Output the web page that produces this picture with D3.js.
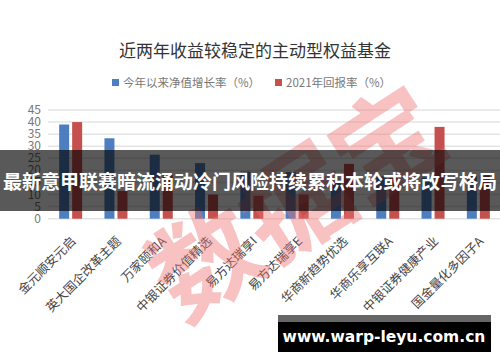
<!DOCTYPE html>
<html>
<head>
<meta charset="utf-8">
<script src="https://cdn.jsdelivr.net/npm/d3@7"></script>
<style>
  html, body { margin: 0; padding: 0; background: #fff; }
  svg { display: block; font-family: "Noto Sans CJK SC", "Noto Sans", sans-serif; }
</style>
</head>
<body>
<svg id="chart" width="500" height="362"></svg>
<script>
"use strict";

// chart data
const funds = ["金元顺安元启", "英大国企改革主题", "万家颐和A", "中银证券价值精选", "易方达瑞享I",
               "易方达瑞享E", "华商新趋势优选", "华商乐享互联A", "中银证券健康产业", "国金量化多因子A"];
const growthYtd = [39.0, 33.3, 26.5, 23.0, 19.5, 19.3, 15.5, 17.5, 17.0, 18.0];
const return2021 = [40.0, 11.5, 18.8, 10.0, 9.5, 10.0, 22.7, 17.0, 38.0, 18.0];
const seriesNames = ["今年以来净值增长率（%）", "2021年回报率（%）"];
const yTicks = [0, 5, 10, 15, 20, 25, 30, 35, 40, 45];

const colors = ["#4d7fc0", "#c5504e"];

const svg = d3.select("#chart");

// title
svg.append("text")
    .attr("x", 255).attr("y", 57)
    .attr("text-anchor", "middle")
    .attr("font-size", 17)
    .attr("fill", "#333")
    .text("近两年收益较稳定的主动型权益基金");

// legend
const legendX = [112, 275];
seriesNames.forEach((name, i) => {
    svg.append("rect")
        .attr("x", legendX[i]).attr("y", 79)
        .attr("width", 7).attr("height", 7)
        .attr("fill", colors[i]);
    svg.append("text")
        .attr("x", legendX[i] + 11).attr("y", 87)
        .attr("font-size", 11.5)
        .attr("fill", "#777")
        .text(name);
});

// scales
const x = d3.scaleBand().domain(funds).range([48, 501]).padding(0);
const y = d3.scaleLinear().domain([0, 45]).range([218.7, 110]);

// grid + y labels
svg.append("g")
    .selectAll("line")
    .data(yTicks)
    .enter()
    .append("line")
    .attr("x1", 48).attr("x2", 500)
    .attr("y1", (d) => y(d)).attr("y2", (d) => y(d))
    .attr("stroke", "#e4e4e4")
    .attr("stroke-width", 1.5);

svg.append("g")
    .selectAll("text")
    .data(yTicks)
    .enter()
    .append("text")
    .attr("x", 41)
    .attr("y", (d) => y(d) + 4)
    .attr("text-anchor", "end")
    .attr("font-size", 12)
    .attr("fill", "#777")
    .text((d) => d);

// bars
const barW = 10;
const series = [growthYtd, return2021];
series.forEach((vals, s) => {
    svg.append("g")
        .selectAll("rect")
        .data(funds)
        .enter()
        .append("rect")
        .attr("x", (d) => x(d) + x.bandwidth() / 2 + (s === 0 ? -11.5 : 1.5))
        .attr("y", (d, i) => y(vals[i]))
        .attr("width", barW)
        .attr("height", (d, i) => y(0) - y(vals[i]))
        .attr("fill", colors[s]);
});

// x labels, rotated
svg.append("g")
    .selectAll("text")
    .data(funds)
    .enter()
    .append("text")
    .attr("transform", (d) => "translate(" + (x(d) + x.bandwidth() / 2 + 6) + ",242) rotate(-45)")
    .attr("text-anchor", "end")
    .attr("font-size", 12.5)
    .attr("fill", "#444")
    .text((d) => d);

// watermark
svg.append("text")
    .attr("transform", "translate(318,236) rotate(-33)")
    .attr("text-anchor", "middle")
    .attr("font-size", 108)
    .attr("font-weight", "bold")
    .attr("fill", "#f07070")
    .attr("opacity", 0.42)
    .text("数据宝");

// headline banner
svg.append("rect")
    .attr("x", 0).attr("y", 150)
    .attr("width", 500).attr("height", 61)
    .attr("fill", "#000")
    .attr("opacity", 0.65);
svg.append("text")
    .attr("x", 250).attr("y", 189)
    .attr("text-anchor", "middle")
    .attr("font-size", 19)
    .attr("font-weight", "bold")
    .attr("fill", "#fff")
    .text("最新意甲联赛暗流涌动冷门风险持续累积本轮或将改写格局");

// site label
svg.append("rect")
    .attr("x", 278).attr("y", 315)
    .attr("width", 213).attr("height", 7)
    .attr("fill", "#666");
svg.append("rect")
    .attr("x", 278).attr("y", 322)
    .attr("width", 213).attr("height", 30)
    .attr("fill", "#000");
svg.append("text")
    .attr("x", 384).attr("y", 342)
    .attr("text-anchor", "middle")
    .attr("font-size", 15.5)
    .attr("font-weight", "bold")
    .attr("font-family", "'DejaVu Sans', sans-serif")
    .attr("fill", "#fff")
    .text("www.warp-leyu.com.cn");
</script>
</body>
</html>
